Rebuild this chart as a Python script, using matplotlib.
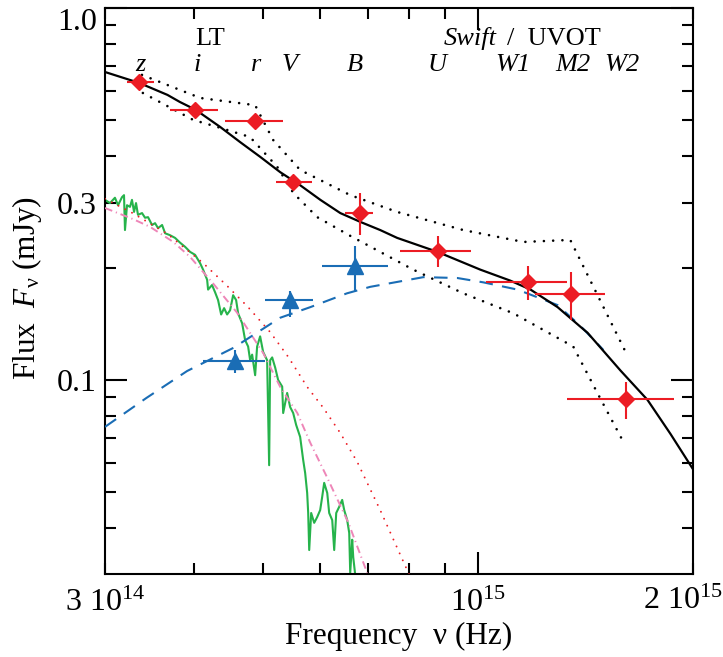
import numpy as np
import matplotlib.pyplot as plt
from matplotlib.ticker import FixedLocator, FuncFormatter

plt.rcParams['font.family'] = ['Liberation Serif', 'DejaVu Serif']
plt.rcParams['mathtext.fontset'] = 'custom'
plt.rcParams['mathtext.rm'] = 'Liberation Serif'
plt.rcParams['mathtext.it'] = 'Liberation Serif:italic'

# frequencies in 1e14 Hz, flux in mJy
# red diamonds: LT (z i r) + Swift/UVOT (V B U W1 M2 W2)
obs_nu = [3.35, 4.01, 4.87, 5.51, 6.84, 8.79, 11.76, 13.51, 16.09]
obs_nu_lo = [3.22, 3.70, 4.42, 5.21, 6.51, 7.78, 10.24, 12.03, 13.34]
obs_nu_hi = [3.51, 4.32, 5.33, 5.85, 7.13, 9.78, 13.34, 15.08, 18.79]
obs_f = [0.632, 0.532, 0.497, 0.341, 0.281, 0.222, 0.183, 0.170, 0.0889]
obs_f_lo = [0.632, 0.532, 0.497, 0.341, 0.245, 0.201, 0.164, 0.145, 0.0785]
obs_f_hi = [0.632, 0.532, 0.497, 0.341, 0.318, 0.244, 0.2025, 0.195, 0.0988]

# blue triangles
host_nu = [4.57, 5.45, 6.73]
host_nu_lo = [4.11, 5.03, 6.05]
host_nu_hi = [5.03, 5.87, 7.48]
host_f = [0.1125, 0.164, 0.2025]
host_f_lo = [0.1044, 0.1477, 0.1724]
host_f_hi = [0.1204, 0.1735, 0.229]

# total model (black solid)
model_nu = [3.00, 3.35, 3.67, 3.82, 4.00, 4.08, 4.35, 4.64, 4.95, 5.28, 5.63, 6.01,
            6.41, 6.84, 7.29, 7.70, 8.77, 10.07, 11.09, 11.84, 12.92, 13.91,
            14.23, 15.83, 17.27, 18.60, 20.03]
model_f = [0.673, 0.629, 0.584, 0.559, 0.535, 0.522, 0.479, 0.436, 0.398, 0.362,
           0.334, 0.305, 0.281, 0.266, 0.253, 0.241, 0.221, 0.198, 0.185, 0.175,
           0.157, 0.139, 0.134, 0.106, 0.0884, 0.0716, 0.0573]

# envelopes (black dotted)
upper_nu = [3.38, 4.08, 4.87, 5.16, 5.63, 6.62, 7.70, 9.53, 11.57, 13.46, 16.09]
upper_f = [0.661, 0.573, 0.548, 0.442, 0.367, 0.314, 0.283, 0.253, 0.235, 0.238, 0.119]
lower_nu = [3.39, 3.99, 4.31, 4.79, 5.23, 5.51, 5.95, 6.62, 8.11, 9.53, 11.21,
            13.59, 14.69, 15.98]
lower_f = [0.591, 0.500, 0.479, 0.450, 0.374, 0.318, 0.274, 0.244, 0.198, 0.171,
           0.151, 0.123, 0.0923, 0.0681]

# blue dashed component
comp_nu = [3.00, 3.43, 3.91, 4.54, 5.28, 5.82, 6.55, 7.06, 8.38, 9.35, 10.17,
           11.35, 12.92, 13.91, 14.98]
comp_f = [0.0748, 0.0895, 0.1057, 0.122, 0.147, 0.157, 0.171, 0.178, 0.189, 0.188,
          0.183, 0.175, 0.159, 0.1397, 0.1204]

# red dotted component
red_nu = [3.00, 3.28, 3.67, 4.12, 4.45, 4.76, 5.11, 5.42, 5.76, 6.07, 6.41, 6.77,
          7.29, 8.01]
red_f = [0.307, 0.281, 0.247, 0.206, 0.179, 0.157, 0.1346, 0.1153, 0.0958, 0.0841,
         0.0720, 0.0602, 0.0447, 0.0299]

# pink dash-dot component
pink_nu = [3.00, 3.28, 3.47, 3.74, 3.95, 4.25, 4.59, 5.00, 5.28, 5.58, 5.82, 6.14,
           6.58, 6.99]
pink_f = [0.290, 0.271, 0.258, 0.235, 0.214, 0.182, 0.152, 0.118, 0.0958, 0.0815,
          0.0677, 0.0548, 0.0413, 0.0303]

# green spectrum
spec_nu = [3.000, 3.049, 3.098, 3.129, 3.169, 3.190, 3.200, 3.221, 3.252, 3.273,
           3.295, 3.316, 3.337, 3.381, 3.414, 3.447, 3.492, 3.526, 3.560, 3.607,
           3.642, 3.701, 3.761, 3.822, 3.885, 3.948, 4.012, 4.078, 4.117, 4.171,
           4.184, 4.238, 4.280, 4.321, 4.364, 4.406, 4.449, 4.492, 4.536, 4.580,
           4.610, 4.670, 4.715, 4.761, 4.792, 4.823, 4.870, 4.901, 4.949, 4.997,
           5.062, 5.095, 5.112, 5.145, 5.195, 5.245, 5.314, 5.331, 5.400, 5.452,
           5.506, 5.559, 5.631, 5.686, 5.723, 5.760, 5.779, 5.798, 5.835, 5.892,
           5.949, 6.007, 6.046, 6.085, 6.145, 6.184, 6.245, 6.285, 6.326, 6.387,
           6.449, 6.491, 6.554, 6.597, 6.618, 6.661, 6.683, 6.726]
spec_f = [0.305, 0.299, 0.309, 0.295, 0.310, 0.314, 0.253, 0.295, 0.292, 0.305,
          0.283, 0.299, 0.278, 0.281, 0.273, 0.274, 0.261, 0.264, 0.256, 0.261,
          0.248, 0.245, 0.241, 0.234, 0.228, 0.221, 0.217, 0.206, 0.198, 0.186,
          0.175, 0.180, 0.172, 0.164, 0.150, 0.156, 0.150, 0.154, 0.169, 0.164,
          0.151, 0.142, 0.128, 0.123, 0.113, 0.117, 0.103, 0.123, 0.131, 0.119,
          0.113, 0.059, 0.113, 0.115, 0.108, 0.100, 0.096, 0.0815, 0.0923, 0.0846,
          0.0815, 0.0757, 0.0703, 0.0610, 0.0562, 0.0497, 0.0439, 0.0349, 0.0439, 0.0413,
          0.0428, 0.0447, 0.0485, 0.0529, 0.0497, 0.0439, 0.0420, 0.0349, 0.0439, 0.0456,
          0.0476, 0.0447, 0.0420, 0.0388, 0.0303, 0.0372, 0.0334, 0.0299]

RED = '#ec1c24'
BLUE = '#1a6db5'
GREEN = '#26b34b'
PINK = '#ee86b8'

fig = plt.figure(figsize=(7.23, 6.57), dpi=100)
ax = fig.add_axes([0.1452, 0.1256, 0.8133, 0.8622])

s = 1e14
ax.plot(np.array(spec_nu) * s, spec_f, color=GREEN, lw=1.5, zorder=2)
ax.plot(np.array(pink_nu) * s, pink_f, color=PINK, lw=1.4,
        linestyle=(0, (4, 2, 0.6, 2)), zorder=3)
ax.plot(np.array(red_nu) * s, red_f, color=RED, lw=1.4,
        linestyle=(0, (0.01, 3.9)), dash_capstyle='round', zorder=3)
ax.plot(np.array(comp_nu) * s, comp_f, color=BLUE, lw=1.5,
        linestyle=(0, (6.5, 4.5)), zorder=3)
for nu, f in [(upper_nu, upper_f), (lower_nu, lower_f)]:
    ax.plot(np.array(nu) * s, f, color='black', lw=1.9,
            linestyle=(0, (0.01, 3.5)), dash_capstyle='round', zorder=4)
ax.plot(np.array(model_nu) * s, model_f, color='black', lw=1.6, zorder=4)

# photometry
nu = np.array(obs_nu) * s
ax.errorbar(nu, obs_f,
            xerr=[nu - np.array(obs_nu_lo) * s, np.array(obs_nu_hi) * s - nu],
            yerr=[np.array(obs_f) - np.array(obs_f_lo), np.array(obs_f_hi) - np.array(obs_f)],
            fmt='D', color=RED, ms=8, elinewidth=1.5, capsize=0, zorder=6)
nu = np.array(host_nu) * s
ax.errorbar(nu, host_f,
            xerr=[nu - np.array(host_nu_lo) * s, np.array(host_nu_hi) * s - nu],
            yerr=[np.array(host_f) - np.array(host_f_lo), np.array(host_f_hi) - np.array(host_f)],
            fmt='^', color=BLUE, ms=11, elinewidth=1.5, capsize=0, zorder=6)

ax.set_xscale('log')
ax.set_yscale('log')
ax.set_xlim(3e14, 2e15)
ax.set_ylim(0.03, 1.0)

ax.xaxis.set_major_locator(FixedLocator([1e15]))
ax.xaxis.set_minor_locator(FixedLocator([3e14, 4e14, 5e14, 6e14, 7e14, 8e14, 9e14, 2e15]))
ax.xaxis.set_major_formatter(FuncFormatter(lambda v, p: r'10$^{15}$'))
ax.xaxis.set_minor_formatter(FuncFormatter(
    lambda v, p: r'3 10$^{14}$' if abs(v - 3e14) < 1e10 else ''))
ax.yaxis.set_major_locator(FixedLocator([0.1, 1.0]))
ax.yaxis.set_minor_locator(FixedLocator([0.04, 0.05, 0.06, 0.07, 0.08, 0.09,
                                         0.2, 0.3, 0.4, 0.5, 0.6, 0.7, 0.8, 0.9]))
ax.yaxis.set_major_formatter(FuncFormatter(lambda v, p: '%.1f' % v))
ax.yaxis.set_minor_formatter(FuncFormatter(lambda v, p: '0.3' if abs(v - 0.3) < 1e-6 else ''))

ax.tick_params(which='both', direction='in', top=True, right=True,
               labelsize=23, width=1.5, color='black')
ax.tick_params(which='major', length=16)
ax.tick_params(which='minor', length=8)
ax.tick_params(axis='x', which='both', pad=10)
ax.tick_params(axis='y', which='both', pad=6)
for sp in ax.spines.values():
    sp.set_linewidth(1.5)
ax.yaxis.get_major_ticks()[1].label1.set_verticalalignment('top')

# right-hand x label sits at the figure edge
fig.text(0.999, 0.0845, r'2 10$^{15}$', ha='right', va='center', fontsize=23)

# band labels
ax.text(0.1786, 0.9347, 'LT', transform=ax.transAxes, ha='center', fontsize=19)
ax.text(0.6667, 0.9347, 'Swift', transform=ax.transAxes, ha='right',
        fontsize=19, style='italic')
ax.text(0.6837, 0.9347, '/  UVOT', transform=ax.transAxes, ha='left', fontsize=19)
bands = ['z', 'i', 'r', 'V', 'B', 'U', 'W1', 'M2', 'W2']
band_x = [0.0595, 0.1565, 0.2568, 0.3146, 0.4252, 0.5646, 0.6939, 0.7959, 0.8793]
for b, bx in zip(bands, band_x):
    ax.text(bx, 0.8888, b, transform=ax.transAxes, ha='center',
            fontsize=19, style='italic')

fig.text(0.037, 0.562, r'Flux  $F_{\mathrm{\nu}}$ (mJy)', rotation=90,
         ha='center', va='center', fontsize=22.5)
fig.text(0.552, 0.032, 'Frequency  ν (Hz)', ha='center', va='center', fontsize=22.5)

fig.savefig('out.png', dpi=100)
